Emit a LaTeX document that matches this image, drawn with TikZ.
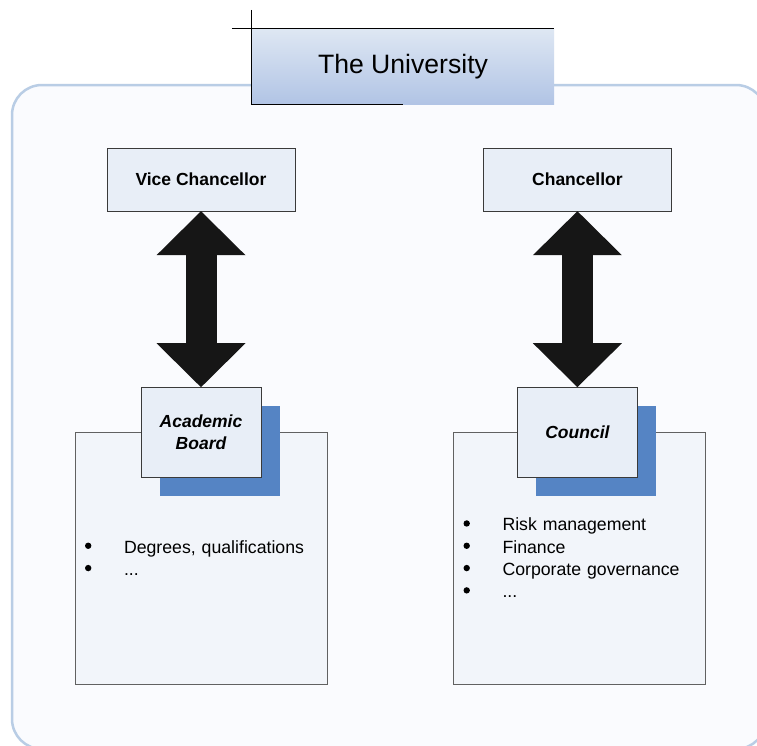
\documentclass[tikz,border=0pt]{standalone}
\usepackage{fontspec}
\setmainfont{Liberation Sans}
\usepackage{xcolor}
\definecolor{frameBlue}{HTML}{B9CDE5}
\definecolor{frameFill}{HTML}{FAFBFE}
\definecolor{boxFill}{HTML}{E8EEF7}
\definecolor{listFill}{HTML}{F2F5FA}
\definecolor{shadowBlue}{HTML}{5584C4}
\definecolor{titleTop}{HTML}{DEE7F3}
\definecolor{titleBottom}{HTML}{B1C4E5}
\definecolor{edgeDark}{HTML}{3A3A3A}
\definecolor{arrowDark}{HTML}{161616}
\usepackage{tikz}
\usetikzlibrary{positioning,calc,arrows.meta,shadows}
\tikzset{
  outerFrame/.style={
    draw=frameBlue,
    fill=frameFill,
    line width=2.5pt,
    rounded corners=30pt
 },
  titleBox/.style={
    rectangle,
    inner sep=0pt,
    minimum width=302pt,
    minimum height=75pt,
    top color=titleTop,
    bottom color=titleBottom,
    font=\fontsize{26.6}{30}\selectfont
 },
  titleEdge/.style={
    draw=black,
    line width=1.2pt
 },
  officeBox/.style={
    rectangle,
    draw=edgeDark,
    fill=boxFill,
    minimum width=188pt,
    minimum height=63pt,
    font=\fontsize{17.5}{21}\selectfont\bfseries
 },
  boardBox/.style={
    rectangle,
    draw=edgeDark,
    fill=boxFill,
    minimum width=120pt,
    minimum height=90pt,
    align=center,
    font=\fontsize{17.5}{22}\selectfont\bfseries\itshape,
    drop shadow={shadow xshift=19pt, shadow yshift=-19pt, fill=shadowBlue, opacity=1}
 },
  listBox/.style={
    rectangle,
    draw=edgeDark!80,
    fill=listFill,
    minimum width=252pt,
    minimum height=252pt,
    text width=232pt,
    inner xsep=10pt,
    align=left,
    font=\fontsize{17.7}{22.3}\selectfont
 },
  dblArrow/.style={
    {Triangle[length=44pt,width=89pt,line width=0pt]}-{Triangle[length=44pt,width=89pt,line width=0pt]},
    line width=31pt,
    draw=arrowDark
 }
}
\newcommand{\bulletItem}[1]{\makebox[39pt][l]{\tikz[baseline=-7.5pt]\fill[black] (0,0) circle (3.2pt);}#1}

\begin{document}
\begin{tikzpicture}[x=1pt,y=-1pt]
            \clip (0,0) rectangle (757,745);
            \fill[white] (0,0) rectangle (757,745);
            \draw[outerFrame] (12,85) rectangle (766,749);

            \node[titleBox] (title) at (403,66.5) {The University};
            \draw[titleEdge] ($(title.north west)+(-20,0)$) -- (title.north east);
            \draw[titleEdge] ($(title.north west)+(0,-19)$) -- (title.south west) -- (title.south);

            \node[officeBox] (vc) at (201,179.5) {Vice Chancellor};
            \node[officeBox, right=188pt of vc] (chan) {Chancellor};

            % duty lists under each body
            \node[listBox] (acList) at (201,558) {\bulletItem{Degrees, qualifications}\\ \bulletItem{...}};
            \node[listBox] (coList) at (579.5,558) {\bulletItem{Risk management}\\ \bulletItem{Finance}\\ \bulletItem{Corporate governance}\\ \bulletItem{...}};

            \node[boardBox, below=176pt of vc] (board) {Academic\\Board};
            \node[boardBox, below=176pt of chan] (council) {Council};

            \draw[dblArrow] (vc) -- (board);
            \draw[dblArrow] (chan) -- (council);
        \end{tikzpicture}
\end{document}
